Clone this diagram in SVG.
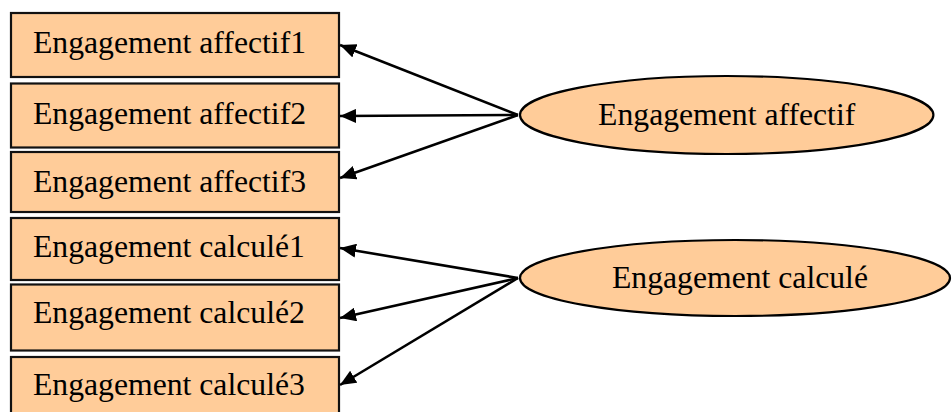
<svg xmlns="http://www.w3.org/2000/svg" width="952" height="412" viewBox="0 0 952 412">
<style>
.box{fill:#FFCC99;stroke:#111;stroke-width:2.2}
.ell{fill:#FFCC99;stroke:#000;stroke-width:2.2}
.t{font-family:"Liberation Serif","Times New Roman",serif;font-size:31.7px;fill:#000}
.c{stroke:#000;stroke-width:2.6;fill:none;marker-end:url(#ah)}
</style>
<defs>
<marker id="ah" markerUnits="userSpaceOnUse" markerWidth="18" markerHeight="14" refX="16" refY="7" orient="auto">
<path d="M0,0 L16,7 L0,14 Z" fill="#000"/>
</marker>
</defs>
<rect width="952" height="412" fill="#fff"/>
<g id="a1"><rect class="box" x="11" y="13" width="328" height="64"/><text class="t" x="33" y="53.3">Engagement affectif1</text></g>
<g id="a2"><rect class="box" x="11" y="83.5" width="328" height="64"/><text class="t" x="33" y="123.5">Engagement affectif2</text></g>
<g id="a3"><rect class="box" x="11" y="152" width="328" height="60"/><text class="t" x="33" y="191.7">Engagement affectif3</text></g>
<g id="c1"><rect class="box" x="11" y="218" width="328" height="62"/><text class="t" x="33" y="257.3">Engagement calculé1</text></g>
<g id="c2"><rect class="box" x="11" y="284.5" width="328" height="66"/><text class="t" x="33" y="323.3">Engagement calculé2</text></g>
<g id="c3"><rect class="box" x="11" y="357" width="328" height="64"/><text class="t" x="33" y="395">Engagement calculé3</text></g>
<g id="ea"><ellipse class="ell" cx="726.7" cy="115" rx="206.7" ry="39"/><text class="t" x="726.7" y="125" text-anchor="middle">Engagement affectif</text></g>
<g id="ec"><ellipse class="ell" cx="735" cy="278" rx="215" ry="38"/><text class="t" x="740" y="288.3" text-anchor="middle">Engagement calculé</text></g>
<g id="connectors">
<line class="c" x1="518" y1="115" x2="340" y2="45"/>
<line class="c" x1="518" y1="115" x2="340" y2="116"/>
<line class="c" x1="518" y1="115" x2="340" y2="178"/>
<line class="c" x1="518" y1="278" x2="340" y2="248"/>
<line class="c" x1="518" y1="278" x2="340" y2="318"/>
<line class="c" x1="518" y1="278" x2="340" y2="385"/>
</g>
</svg>
